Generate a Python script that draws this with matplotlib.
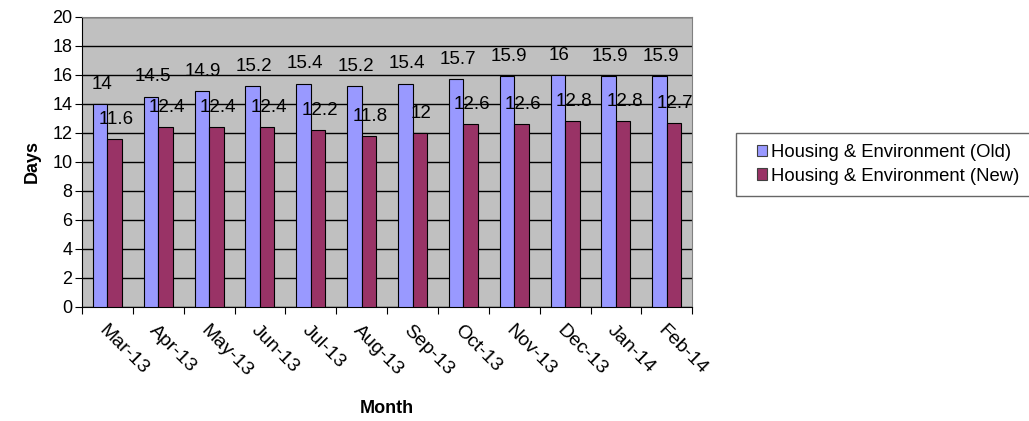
import numpy as np
import matplotlib.pyplot as plt
from matplotlib.legend_handler import HandlerPatch

plt.rcParams["font.family"] = ["Liberation Sans", "DejaVu Sans"]

months = ["Mar-13", "Apr-13", "May-13", "Jun-13", "Jul-13", "Aug-13",
          "Sep-13", "Oct-13", "Nov-13", "Dec-13", "Jan-14", "Feb-14"]
old_days = [14, 14.5, 14.9, 15.2, 15.4, 15.2, 15.4, 15.7, 15.9, 16, 15.9, 15.9]
new_days = [11.6, 12.4, 12.4, 12.4, 12.2, 11.8, 12, 12.6, 12.6, 12.8, 12.8, 12.7]
series_names = ["Housing & Environment (Old)", "Housing & Environment (New)"]


def fmt(v):
    return f"{v:g}"


def main():
    fig = plt.figure(figsize=(10.29, 4.21), dpi=100)
    ax = fig.add_axes([0.0797, 0.271, 0.593, 0.689])

    x = np.arange(len(months))
    w = 0.285
    ax.set_facecolor("#C0C0C0")
    b1 = ax.bar(x - w / 2, old_days, w, color="#9999FF", edgecolor="black",
                linewidth=0.8, zorder=3)
    b2 = ax.bar(x + w / 2, new_days, w, color="#993366", edgecolor="black",
                linewidth=0.8, zorder=3)

    for xi, v in zip(x, old_days):
        ax.annotate(fmt(v), (xi - w / 2, v), xytext=(1, 8), textcoords="offset points",
                    ha="center", va="bottom", fontsize=13.5, zorder=4)
    for xi, v in zip(x, new_days):
        ax.annotate(fmt(v), (xi + w / 2, v), xytext=(1, 8), textcoords="offset points",
                    ha="center", va="bottom", fontsize=13.5, zorder=4)

    ax.set_xlim(-0.5, len(months) - 0.5)
    ax.set_ylim(0, 20)
    ax.set_yticks(range(0, 21, 2))
    ax.yaxis.grid(True, color="black", linewidth=1, zorder=0)
    ax.set_axisbelow(True)

    # ticks on the category boundaries, labels centred under each group
    ax.set_xticks(np.arange(-0.5, len(months), 1))
    ax.set_xticklabels([])
    ax.set_xticks(x, minor=True)
    ax.set_xticklabels(months, minor=True, rotation=-45, ha="left",
                       rotation_mode="anchor", fontsize=14)
    ax.tick_params(axis="x", which="minor", length=0, pad=11)
    ax.tick_params(axis="x", which="major", length=5, direction="out")
    ax.tick_params(axis="y", length=5, direction="out", labelsize=13, pad=2)

    for s in ["top", "right"]:
        ax.spines[s].set_color("#808080")
    ax.spines["left"].set_color("black")
    ax.spines["bottom"].set_color("black")

    ax.set_ylabel("Days", fontsize=13, fontweight="bold", labelpad=8)
    ax.set_xlabel("Month", fontsize=13, fontweight="bold", labelpad=14)

    # small square swatches, indented from the frame edge
    square = HandlerPatch(xpad=0.55)
    h1, h2 = b1.patches[0], b2.patches[0]
    leg = fig.legend([h1, h2], series_names, loc="upper left",
                     bbox_to_anchor=(0.715, 0.684), fontsize=13.3,
                     frameon=True, fancybox=False, edgecolor="#404040",
                     handlelength=1.1, handleheight=0.55, handletextpad=0.2,
                     borderpad=0.6, labelspacing=0.35, borderaxespad=0,
                     handler_map={h1: square, h2: square})
    leg.get_frame().set_linewidth(1)
    for h in leg.legend_handles:
        h.set_edgecolor("#404040")

    fig.savefig("out.png", dpi=100)


if __name__ == "__main__":
    main()
